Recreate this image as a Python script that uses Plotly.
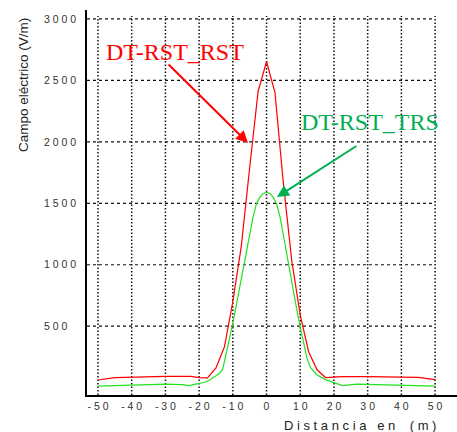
import plotly.graph_objects as go

# ---- data ----
red_x = [-50, -45, -30, -22.5, -20, -17.5, -15, -12.5, -10, -7.5, -5, -2.5, 0,
         2.5, 5, 7.5, 10, 12.5, 15, 17.5, 20, 22.5, 30, 45, 50]
red_y = [62, 82, 92, 92, 82, 80, 160, 330, 700, 1150, 1790, 2410, 2654,
         2400, 1660, 1030, 590, 290, 145, 82, 86, 89, 89, 84, 65]

green_x = [-50, -40, -30, -25, -23, -20, -18.5, -17, -15, -14, -13, -12, -11, -10,
           -9, -8, -7, -6, -5, -4, -3, -2, -1, 0, 1, 2, 3, 4, 5, 6, 7, 8, 9,
           10, 11, 12, 13, 14, 15, 17.5, 20, 22.5, 27, 40, 50]
green_y = [13, 21, 29, 25, 16, 35, 42, 60, 95, 115, 150, 270, 400, 525,
           665, 810, 958, 1105, 1250, 1390, 1495, 1548, 1580, 1590, 1580, 1548, 1495, 1390, 1240, 1080, 920, 770, 630,
           490, 360, 240, 165, 130, 103, 65, 38, 16, 29, 21, 13]

x_ticks = [-50, -40, -30, -20, -10, 0, 10, 20, 30, 40, 50]
x_ticktext = ["- 5 0", "- 4 0", "- 3 0", "- 2 0", "- 1 0", "0", "1 0", "2 0", "3 0", "4 0", "5 0"]
y_ticks = [500, 1000, 1500, 2000, 2500, 3000]
y_ticktext = ["5 0 0\u00a0\u00a0\u00a0\u200d", "1 0 0 0", "1 5 0 0", "2 0 0 0", "2 5 0 0", "3 0 0 0"]

XR = [-53.26, 56.5]
YR = [-60, 3073]

fig = go.Figure()
fig.add_trace(go.Scatter(x=red_x, y=red_y, mode="lines",
                         line=dict(color="#ff0000", width=1.2), name="DT-RST_RST"))
fig.add_trace(go.Scatter(x=green_x, y=green_y, mode="lines",
                         line=dict(color="#22e022", width=1.2), name="DT-RST_TRS"))

shapes = []
for v in y_ticks:
    shapes.append(dict(type="line", xref="x", yref="y", x0=XR[0], x1=50, y0=v, y1=v,
                       line=dict(color="#111", width=1.2, dash="3px,3px"), layer="below"))
for v in x_ticks:
    shapes.append(dict(type="line", xref="x", yref="y", x0=v, x1=v, y0=YR[0], y1=3024,
                       line=dict(color="#111", width=1.5, dash="1.5px,2px"), layer="below"))

tickfont = dict(family="Liberation Sans, Arial, sans-serif", size=10.5, color="#333")

fig.update_layout(
    width=457, height=432, autosize=False,
    margin=dict(l=87, r=0, t=10, b=37),
    plot_bgcolor="white", paper_bgcolor="white",
    showlegend=False,
    shapes=shapes,
    xaxis=dict(range=XR, showgrid=False, zeroline=False, showline=True,
               linecolor="black", linewidth=1.5, tickvals=x_ticks, ticktext=x_ticktext,
               ticks="", tickfont=tickfont, ticklabelstandoff=1),
    yaxis=dict(range=YR, showgrid=False, zeroline=False, showline=True,
               linecolor="black", linewidth=1.5, tickvals=y_ticks, ticktext=y_ticktext,
               ticks="", tickfont=tickfont, ticklabelstandoff=7),
    annotations=[
        dict(x=-27.2, y=2735, xref="x", yref="y", text="DT-RST_RST", showarrow=False,
             font=dict(family="Liberation Serif, Times New Roman, serif", size=24, color="#ff0000")),
        dict(x=-5.5, y=1991, ax=-29.5, ay=2642, xref="x", yref="y", axref="x", ayref="y",
             text="", showarrow=True, arrowhead=2, arrowsize=1.2, arrowwidth=2, arrowcolor="#ff0000"),
        dict(x=30.7, y=2160, xref="x", yref="y", text="DT-RST_TRS", showarrow=False,
             font=dict(family="Liberation Serif, Times New Roman, serif", size=24, color="#00b050")),
        dict(x=3.1, y=1551, ax=27.1, ay=1974, xref="x", yref="y", axref="x", ayref="y",
             text="", showarrow=True, arrowhead=2, arrowsize=1.2, arrowwidth=2, arrowcolor="#00b050"),
        dict(x=(24 - 87) / 370, y=(395 - 85) / 385, xref="paper", yref="paper",
             text="Campo eléctrico (V/m)", textangle=-90, showarrow=False,
             xanchor="center", yanchor="middle",
             font=dict(family="Liberation Sans, Arial, sans-serif", size=13.5, color="#222")),
        dict(x=(438 - 87) / 370, y=(395 - 425) / 385, xref="paper", yref="paper",
             text="D i s t a n c i a\u00a0\u00a0\u00a0e n\u00a0\u00a0\u00a0\u00a0( m )", showarrow=False,
             xanchor="right", yanchor="middle",
             font=dict(family="Liberation Sans, Arial, sans-serif", size=13, color="#222")),
    ],
)

fig.write_html("out.html")
